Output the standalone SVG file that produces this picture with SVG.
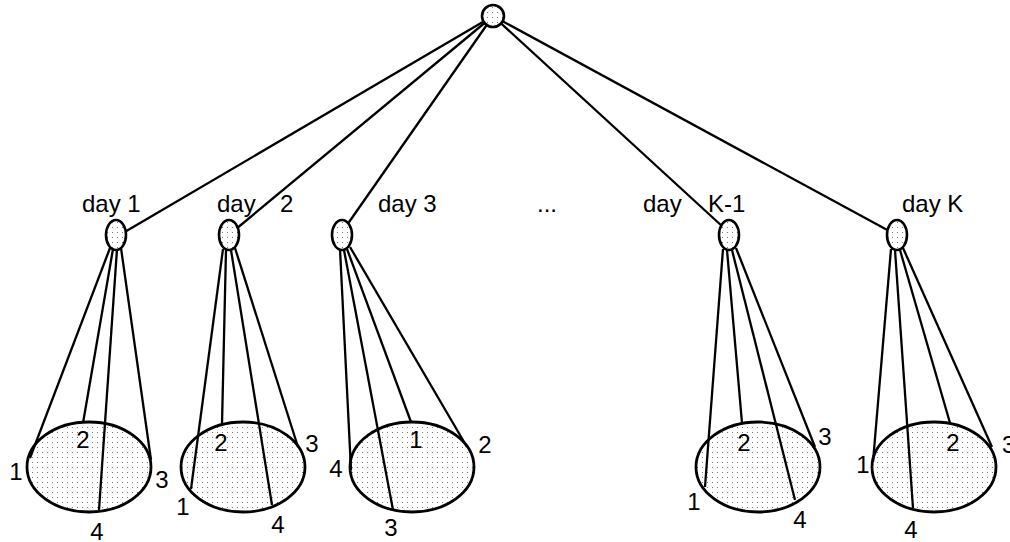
<svg xmlns="http://www.w3.org/2000/svg" width="1010" height="542" viewBox="0 0 1010 542">
<style>
.big{fill:url(#dots);stroke:#000;stroke-width:2.8}
.nd{fill:url(#dots);stroke:#000;stroke-width:2.6}
.ln{stroke:#000;stroke-width:2.3;fill:none}
text{font-family:"Liberation Sans",Arial,sans-serif;font-size:24px;fill:#000}
.c{text-anchor:middle}
</style>
<defs>
<pattern id="dots" x="0" y="0" width="5" height="5" patternUnits="userSpaceOnUse">
<rect width="5" height="5" fill="#fff"/>
<rect x="2" y="2" width="1" height="1" fill="#777"/>
</pattern>
</defs>
<rect width="1010" height="542" fill="#fff"/>
<g id="set1"><ellipse class="big" cx="89" cy="467" rx="62" ry="45"/></g>
<g id="set2"><ellipse class="big" cx="243" cy="467" rx="62" ry="45"/></g>
<g id="set3"><ellipse class="big" cx="412" cy="467" rx="62" ry="45"/></g>
<g id="setK1"><ellipse class="big" cx="758" cy="467" rx="62" ry="45"/></g>
<g id="setK"><ellipse class="big" cx="934" cy="467" rx="62" ry="45"/></g>
<g id="connectors" class="ln">
<line x1="493" y1="16" x2="123" y2="233"/>
<line x1="493" y1="16" x2="236" y2="229"/>
<line x1="493" y1="16" x2="347" y2="225"/>
<line x1="493" y1="16" x2="723" y2="227"/>
<line x1="493" y1="16" x2="891" y2="232"/>
<line x1="110" y1="248" x2="30" y2="458"/>
<line x1="113" y1="249" x2="83" y2="423"/>
<line x1="117" y1="249" x2="99" y2="510"/>
<line x1="121" y1="248" x2="151" y2="460"/>
<line x1="223" y1="249" x2="191" y2="489"/>
<line x1="226" y1="250" x2="222" y2="424"/>
<line x1="231" y1="250" x2="272" y2="505"/>
<line x1="235" y1="248" x2="298" y2="447"/>
<line x1="340" y1="249" x2="351" y2="470"/>
<line x1="344" y1="250" x2="393" y2="510"/>
<line x1="347" y1="249" x2="411" y2="422"/>
<line x1="350" y1="247" x2="467" y2="447"/>
<line x1="723" y1="249" x2="705" y2="487"/>
<line x1="727" y1="250" x2="742" y2="423"/>
<line x1="732" y1="250" x2="795" y2="500"/>
<line x1="736" y1="248" x2="815" y2="447"/>
<line x1="891" y1="249" x2="873" y2="462"/>
<line x1="895" y1="250" x2="913" y2="508"/>
<line x1="900" y1="250" x2="950" y2="423"/>
<line x1="903" y1="248" x2="992" y2="447"/>
</g>
<g id="root"><circle class="nd" cx="493" cy="16" r="11"/></g>
<g id="day1"><ellipse class="nd" cx="116" cy="235" rx="10" ry="15"/><text x="82" y="212">day 1</text></g>
<g id="day2"><ellipse class="nd" cx="229" cy="235" rx="10" ry="15"/><text x="217" y="212">day<tspan x="280">2</tspan></text></g>
<g id="day3"><ellipse class="nd" cx="342" cy="235" rx="10" ry="15"/><text x="378" y="212">day 3</text></g>
<g id="dots-label"><text x="537" y="212">...</text></g>
<g id="dayK1"><ellipse class="nd" cx="729" cy="235" rx="10" ry="15"/><text x="643" y="212">day<tspan x="708">K-1</tspan></text></g>
<g id="dayK"><ellipse class="nd" cx="897" cy="235" rx="10" ry="15"/><text x="902" y="212">day K</text></g>
<g id="labels1">
<text class="c" x="16" y="480">1</text>
<text class="c" x="83" y="448">2</text>
<text class="c" x="162" y="488">3</text>
<text class="c" x="97" y="540">4</text>
</g>
<g id="labels2">
<text class="c" x="183" y="515">1</text>
<text class="c" x="221" y="451">2</text>
<text class="c" x="312" y="452">3</text>
<text class="c" x="278" y="533">4</text>
</g>
<g id="labels3">
<text class="c" x="336" y="477">4</text>
<text class="c" x="416" y="448">1</text>
<text class="c" x="485" y="453">2</text>
<text class="c" x="391" y="536">3</text>
</g>
<g id="labelsK1">
<text class="c" x="694" y="510">1</text>
<text class="c" x="744" y="451">2</text>
<text class="c" x="825" y="445">3</text>
<text class="c" x="800" y="528">4</text>
</g>
<g id="labelsK">
<text class="c" x="863" y="473">1</text>
<text class="c" x="953" y="451">2</text>
<text x="1002" y="453">3</text>
<text class="c" x="911" y="538">4</text>
</g>
</svg>
